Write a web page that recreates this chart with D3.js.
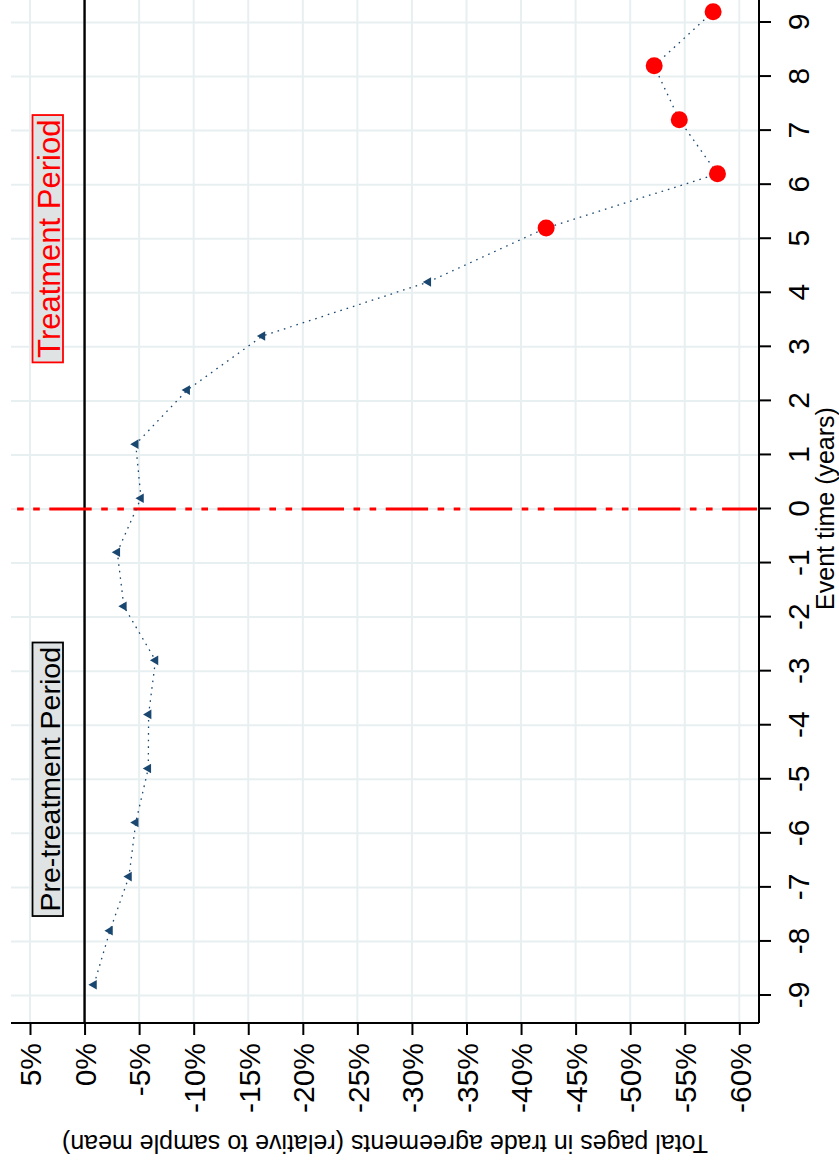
<!DOCTYPE html>
<html>
<head>
<meta charset="utf-8">
<script src="https://cdn.jsdelivr.net/npm/d3@7"></script>
<style>
  html, body { margin: 0; padding: 0; background: #fff; }
  svg { display: block; font-family: "Liberation Sans", Arial, Helvetica, sans-serif; }
</style>
</head>
<body>
<svg id="chart" width="839" height="1164"></svg>
<script>
// Event-study estimates: total pages in trade agreements relative to sample mean
const eventTimes = [-9, -8, -7, -6, -5, -4, -3, -2, -1, 0, 1, 2, 3, 4, 5, 6, 7, 8, 9];
const effectPct  = [-0.86, -2.33, -4.07, -4.69, -5.84, -5.87, -6.5, -3.6, -3.0, -5.17,
                    -4.69, -9.4, -16.3, -31.5, -42.3, -58.0, -54.5, -52.2, -57.6];
const highlightedEvents = [5, 6, 7, 8, 9];
const eventTicks = [-9, -8, -7, -6, -5, -4, -3, -2, -1, 0, 1, 2, 3, 4, 5, 6, 7, 8, 9];
const pctTicks = [5, 0, -5, -10, -15, -20, -25, -30, -35, -40, -45, -50, -55, -60];
const xTitle = "Event time (years)";
const yTitle = "Total pages in trade agreements (relative to sample mean)";
const periodNames = ["Pre-treatment Period", "Treatment Period"];
const periodCentres = [-5, 5];

// Label appearance for each period box
const periodStyle = [
  { color: "#000000", size: 28.5 },
  { color: "#ff0000", size: 31 }
];

// Estimates are drawn slightly to the right of their event year
const plotShift = 0.2;

const W = 1164;                   // long side of the layout before the quarter turn
const svg = d3.select("#chart");
// Whole graph is laid out normally, then turned a quarter turn counter-clockwise
const g = svg.append("g").attr("transform", `translate(0,${W}) rotate(-90)`);

const plotLeft = 141, plotRight = 1172, plotTop = 11, plotBottom = 759;

const x = d3.scaleLinear().domain([-9, 9]).range([168.5, 1141.5]);
const y = d3.scaleLinear().domain([5, -60]).range([30, 739.3]);

const navy = "#1a476f";
const gridColor = "#e8eff1";

// Grid
g.append("g").selectAll("line").data(pctTicks).join("line")
  .attr("x1", plotLeft).attr("x2", plotRight)
  .attr("y1", d => y(d)).attr("y2", d => y(d))
  .attr("stroke", gridColor).attr("stroke-width", 2);
g.append("g").selectAll("line").data(eventTicks).join("line")
  .attr("x1", d => x(d)).attr("x2", d => x(d))
  .attr("y1", plotTop).attr("y2", plotBottom)
  .attr("stroke", gridColor).attr("stroke-width", 2);

// Zero-effect reference line
g.append("line")
  .attr("x1", plotLeft).attr("x2", plotRight)
  .attr("y1", y(0)).attr("y2", y(0))
  .attr("stroke", "#000").attr("stroke-width", 2.4);

// Treatment onset
g.append("line")
  .attr("x1", x(0)).attr("x2", x(0))
  .attr("y1", plotTop).attr("y2", plotBottom - 2)
  .attr("stroke", "#ff0000").attr("stroke-width", 3)
  .attr("stroke-dasharray", "42.4 9.5 6.6 9.5 6.6 9.5")
  .attr("stroke-dashoffset", 45.8);

// Axes
const xAxis = d3.axisBottom(x).tickValues(eventTicks).tickSize(12).tickPadding(17)
  .tickFormat(d => String(d));
const yAxis = d3.axisLeft(y).tickValues(pctTicks).tickSize(12).tickPadding(8)
  .tickFormat(d => String(d) + "%");

const gx = g.append("g").attr("transform", `translate(0,${plotBottom})`).call(xAxis);
const gy = g.append("g").attr("transform", `translate(${plotLeft},0)`).call(yAxis);
[gx, gy].forEach(a => {
  a.select(".domain").remove();
  a.selectAll(".tick line").attr("stroke", "#000").attr("stroke-width", 2);
  a.selectAll(".tick text").attr("fill", "#000")
    .style("font-size", "30px").style("font-family", "Liberation Sans, Arial, sans-serif");
});
gy.selectAll(".tick text").attr("dy", "0.36em");

// Axis lines
g.append("line").attr("x1", plotLeft).attr("x2", plotRight)
  .attr("y1", plotBottom).attr("y2", plotBottom)
  .attr("stroke", "#000").attr("stroke-width", 2);
g.append("line").attr("x1", plotLeft).attr("x2", plotLeft)
  .attr("y1", plotTop).attr("y2", plotBottom)
  .attr("stroke", "#000").attr("stroke-width", 2);

// Axis titles
g.append("text")
  .attr("x", (plotLeft + plotRight) / 2 - 1).attr("y", 834)
  .attr("text-anchor", "middle").style("font-size", "25px").text(xTitle);
g.append("text")
  .attr("transform", `translate(29,${(plotTop + plotBottom) / 2}) rotate(-90)`)
  .attr("text-anchor", "middle").style("font-size", "25px").text(yTitle);

// Period annotations
periodNames.forEach((name, i) => {
  const st = periodStyle[i];
  const cx = x(periodCentres[i]);
  const lg = g.append("g");
  const rect = lg.append("rect");
  const t = lg.append("text")
    .attr("x", cx).attr("y", 59.5)
    .attr("text-anchor", "middle")
    .attr("fill", st.color)
    .style("font-size", st.size + "px")
    .text(name);
  const w = t.node().getComputedTextLength();
  rect.attr("x", cx - w / 2 - 4.5).attr("width", w + 9)
    .attr("y", 32.5).attr("height", 30.5)
    .attr("fill", "#dfe3e4").attr("stroke", st.color).attr("stroke-width", 1.8);
});

// Estimates
const pts = eventTimes.map((t, i) => ({ t, v: effectPct[i] }));
const line = d3.line().x(d => x(d.t + plotShift)).y(d => y(d.v));
g.append("path").datum(pts)
  .attr("d", line).attr("fill", "none")
  .attr("stroke", navy).attr("stroke-width", 1.3)
  .attr("stroke-dasharray", "1.6 5");

const isHighlighted = d => highlightedEvents.includes(d.t);
g.append("g").selectAll("path").data(pts.filter(d => !isHighlighted(d))).join("path")
  .attr("transform", d => `translate(${x(d.t + plotShift)},${y(d.v)})`)
  .attr("d", d3.symbol(d3.symbolTriangle, 40))
  .attr("fill", navy);
g.append("g").selectAll("circle").data(pts.filter(isHighlighted)).join("circle")
  .attr("cx", d => x(d.t + plotShift)).attr("cy", d => y(d.v))
  .attr("r", 8.5).attr("fill", "#ff0000");
</script>
</body>
</html>
